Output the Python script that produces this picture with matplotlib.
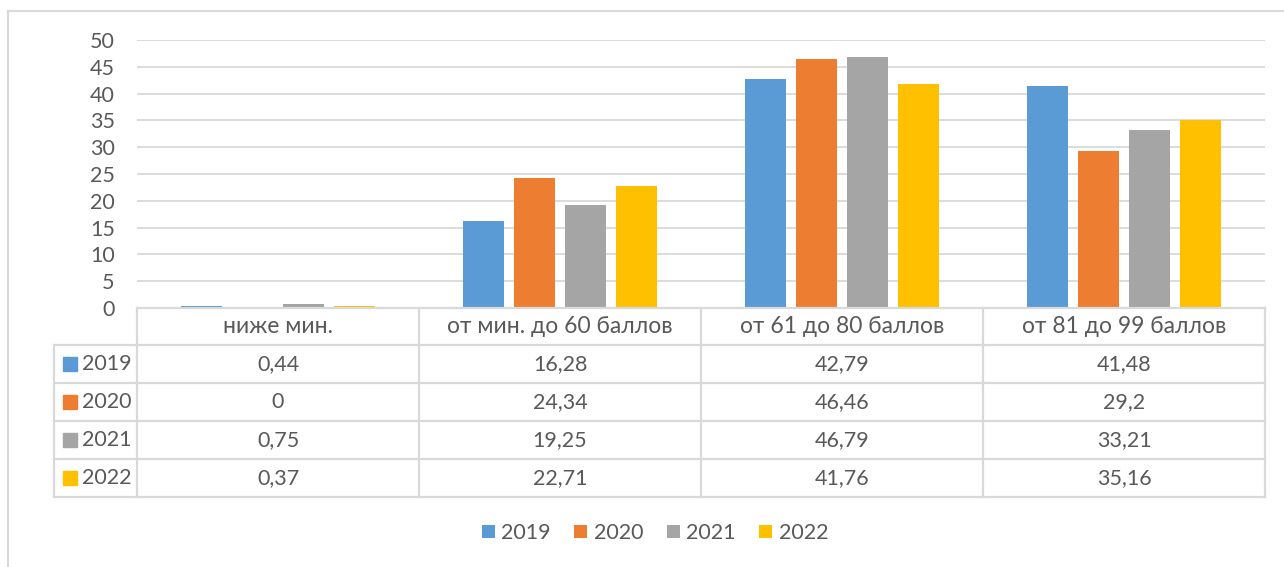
import matplotlib.pyplot as plt
from matplotlib.lines import Line2D
from matplotlib.patches import Rectangle
import numpy as np

# данные
categories = ['ниже мин.', 'от мин. до 60 баллов', 'от 61 до 80 баллов', 'от 81 до 99 баллов']
years = ['2019', '2020', '2021', '2022']
v2019 = [0.44, 16.28, 42.79, 41.48]
v2020 = [0, 24.34, 46.46, 29.2]
v2021 = [0.75, 19.25, 46.79, 33.21]
v2022 = [0.37, 22.71, 41.76, 35.16]
series = [v2019, v2020, v2021, v2022]
colors = ['#5B9BD5', '#ED7D31', '#A5A5A5', '#FFC000']

plt.rcParams['font.family'] = ['Lato', 'Open Sans', 'DejaVu Sans']
txt = '#595959'
gridc = '#D9D9D9'
fs = 15.5

W, H = 1284, 567
fig = plt.figure(figsize=(W / 100, H / 100), dpi=100)


def fx(x):
    return x / W


def fy(y):
    return 1 - y / H


# область графика
x0, x1, ytop, ybot = 137, 1265, 40, 308
ax = fig.add_axes([fx(x0), fy(ybot), fx(x1 - x0), (ybot - ytop) / H])
x = np.arange(len(categories))
width = 0.145
step = 0.181
for i, (vals, c) in enumerate(zip(series, colors)):
    ax.bar(x + (i - 1.5) * step, vals, width, color=c, label=years[i], zorder=3)
ax.set_xlim(-0.5, len(categories) - 0.5)
ax.set_ylim(0, 50)
ax.set_yticks(range(0, 51, 5))
ax.set_xticks([])
ax.yaxis.grid(True, color=gridc, linewidth=1.3)
ax.set_axisbelow(True)
for s in ax.spines.values():
    s.set_visible(False)
ax.tick_params(axis='y', length=0, labelsize=fs, labelcolor=txt, pad=16)

# таблица данных
row_h = 38
head_top = 308
head_bot = 345
col_left = 54
col_edges = [x0 + k * (x1 - x0) / len(categories) for k in range(len(categories) + 1)]
rows_bot = head_bot + row_h * len(years)
lw = 1.6


def hline(y, xa, xb):
    fig.add_artist(Line2D([fx(xa), fx(xb)], [fy(y), fy(y)], color=gridc, lw=lw))


def vline(xp, ya, yb):
    fig.add_artist(Line2D([fx(xp), fx(xp)], [fy(ya), fy(yb)], color=gridc, lw=lw))


hline(head_top, x0, x1)
for r in range(len(years) + 1):
    hline(head_bot + r * row_h, col_left, x1)
for xe in col_edges:
    vline(xe, head_top, rows_bot)
vline(col_left, head_bot, rows_bot)

for k, cat in enumerate(categories):
    cx = (col_edges[k] + col_edges[k + 1]) / 2
    fig.text(fx(cx), fy((head_top + head_bot) / 2), cat, ha='center', va='center',
             fontsize=fs + 1, color=txt)
    for r, vals in enumerate(series):
        s = ('%g' % vals[k]).replace('.', ',')
        fig.text(fx(cx), fy(head_bot + r * row_h + row_h / 2), s, ha='center',
                 va='center', fontsize=fs, color=txt)

for r, (yr, c) in enumerate(zip(years, colors)):
    yc = head_bot + r * row_h + row_h / 2
    fig.add_artist(Rectangle((fx(63), fy(yc + 7)), fx(14), 14 / H, color=c))
    fig.text(fx(82), fy(yc), yr, ha='left', va='center', fontsize=fs, color=txt)

# рамка диаграммы
fig.add_artist(Line2D([fx(8), fx(8)], [fy(11), 0], color=gridc, lw=1.5))
fig.add_artist(Line2D([fx(8), 1], [fy(11), fy(11)], color=gridc, lw=1.5))

# легенда
fig.legend(loc='center', bbox_to_anchor=(fx(655), fy(533)), ncol=4, frameon=False,
           fontsize=fs, labelcolor=txt, handlelength=0.6, handleheight=0.6,
           handletextpad=0.3, columnspacing=1.1)

plt.savefig('out.png', dpi=100)
